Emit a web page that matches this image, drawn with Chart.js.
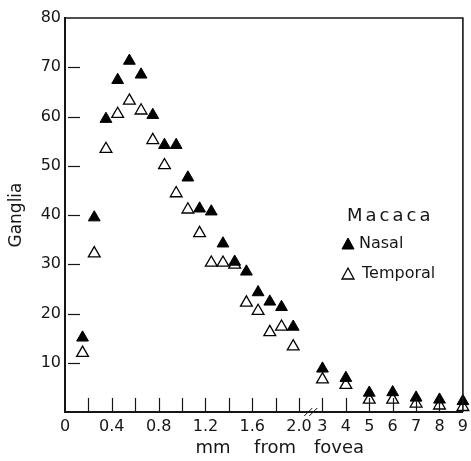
<!DOCTYPE html>
<html>
<head>
<meta charset="utf-8">
<script src="https://cdn.jsdelivr.net/npm/chart.js@4/dist/chart.umd.min.js"></script>
<style>
html, body { margin: 0; padding: 0; background: #fff; }
</style>
</head>
<body>
<canvas id="graphCanvas" width="471" height="461"></canvas>
<script>
// Distances (mm from fovea) - fine section 0..2 mm, then coarse 3..9 mm
const nearDist = [0.15, 0.25, 0.35, 0.45, 0.55, 0.65, 0.75, 0.85, 0.95, 1.05,
                  1.15, 1.25, 1.35, 1.45, 1.55, 1.65, 1.75, 1.85, 1.95];
const farDist = [3, 4, 5, 6, 7, 8, 9];

// Ganglia counts
const nasalNear = [15.1, 39.5, 59.5, 67.4, 71.3, 68.5, 60.3, 54.2, 54.2, 47.6,
                   41.3, 40.7, 34.2, 30.5, 28.5, 24.3, 22.4, 21.3, 17.3];
const temporalNear = [12.0, 32.2, 53.4, 60.5, 63.2, 61.2, 55.2, 50.1, 44.4, 41.1,
                      36.3, 30.3, 30.3, 29.9, 22.2, 20.5, 16.2, 17.3, 13.3];
const nasalFar = [8.8, 6.9, 3.9, 4.0, 2.9, 2.5, 2.2];
const temporalFar = [6.6, 5.5, 2.5, 2.5, 1.7, 1.3, 1.0];

// Axis ticks
const xTickValues = [0, 0.4, 0.8, 1.2, 1.6, 2.0, 3, 4, 5, 6, 7, 8, 9];
const xTickLabels = ['0', '0.4', '0.8', '1.2', '1.6', '2.0', '3', '4', '5', '6', '7', '8', '9'];
const xMinorTicks = [0.2, 0.6, 1.0, 1.4, 1.8];
const yTickValues = [10, 20, 30, 40, 50, 60, 70, 80];

const INK = '#161616';
const FONT = '"DejaVu Sans", sans-serif';

// broken axis: after 2.0 mm every whole mm takes the room of 0.2 mm
function pos(mm) {
    return mm <= 2 ? mm : 2 + (mm - 2) * 0.2;
}

function toPoints(dist, vals) {
    return dist.map((d, i) => ({ x: pos(d), y: vals[i] }));
}

// frame, inward ticks, break mark, titles and legend
const decorations = {
    id: 'decorations',
    afterDraw(chart) {
        const ctx = chart.ctx;
        const a = chart.chartArea;
        const xs = chart.scales.x;
        const ys = chart.scales.y;
        ctx.save();
        ctx.strokeStyle = INK;
        ctx.fillStyle = INK;

        // top + right frame
        ctx.lineWidth = 1.6;
        ctx.beginPath();
        ctx.moveTo(a.left, a.top);
        ctx.lineTo(a.right, a.top);
        ctx.lineTo(a.right, a.bottom);
        ctx.stroke();

        // x ticks pointing up
        ctx.lineWidth = 1.2;
        const xt = xTickValues.slice(1, -1).concat(xMinorTicks);
        xt.forEach(v => {
            const px = Math.round(xs.getPixelForValue(pos(v))) + 0.5;
            ctx.beginPath();
            ctx.moveTo(px, a.bottom);
            ctx.lineTo(px, a.bottom - 14);
            ctx.stroke();
        });
        // y ticks pointing right
        yTickValues.slice(0, -1).forEach(v => {
            const py = Math.round(ys.getPixelForValue(v)) + 0.5;
            ctx.beginPath();
            ctx.moveTo(a.left + 3, py);
            ctx.lineTo(a.left + 15, py);
            ctx.stroke();
        });

        // axis break "//"
        const bx = (xs.getPixelForValue(2) + xs.getPixelForValue(pos(3))) / 2;
        ctx.lineWidth = 1;
        [-2.5, 2.5].forEach(off => {
            ctx.beginPath();
            ctx.moveTo(bx + off - 4, a.bottom + 4);
            ctx.lineTo(bx + off + 4, a.bottom - 4);
            ctx.stroke();
        });

        // x title, wide word spacing as in the print
        ctx.font = '18px ' + FONT;
        ctx.textAlign = 'center';
        ctx.textBaseline = 'alphabetic';
        ctx.fillText('mm', 213, 453);
        ctx.fillText('from', 275, 453);
        ctx.fillText('fovea', 339, 453);

        // y title
        ctx.save();
        ctx.translate(17, 215);
        ctx.rotate(-Math.PI / 2);
        ctx.textBaseline = 'middle';
        ctx.font = '17px ' + FONT;
        ctx.fillText('Ganglia', 0, 0);
        ctx.restore();

        // legend
        ctx.textAlign = 'left';
        ctx.textBaseline = 'middle';
        ctx.font = '18px ' + FONT;
        ctx.letterSpacing = '3px';
        ctx.fillText('Macaca', 347, 216);
        ctx.letterSpacing = '0px';
        ctx.font = '16px ' + FONT;
        chart.data.datasets.forEach((ds, i) => {
            const ly = 244 + i * 30;
            ctx.fillStyle = ds.backgroundColor;
            ctx.strokeStyle = ds.borderColor;
            ctx.lineWidth = ds.borderWidth;
            ctx.beginPath();
            ctx.moveTo(348, ly - 6);
            ctx.lineTo(354, ly + 5);
            ctx.lineTo(342, ly + 5);
            ctx.closePath();
            ctx.fill();
            ctx.stroke();
            ctx.fillStyle = INK;
            ctx.fillText(ds.label, 359 + i * 3, ly);
        });
        ctx.restore();
    }
};

const ctx = document.getElementById('graphCanvas').getContext('2d');
window.myChart = new Chart(ctx, {
    type: 'scatter',
    data: {
        datasets: [{
            label: 'Nasal',
            data: toPoints(nearDist, nasalNear).concat(toPoints(farDist, nasalFar)),
            pointStyle: 'triangle',
            pointRadius: 6.8,
            backgroundColor: '#000',
            borderColor: '#000',
            borderWidth: 1,
            clip: false
        }, {
            label: 'Temporal',
            data: toPoints(nearDist, temporalNear).concat(toPoints(farDist, temporalFar)),
            pointStyle: 'triangle',
            pointRadius: 6.8,
            backgroundColor: '#fff',
            borderColor: '#000',
            borderWidth: 1.3,
            clip: false
        }]
    },
    options: {
        responsive: false,
        animation: false,
        devicePixelRatio: 1,
        layout: { padding: { top: 18, right: 7, left: 0, bottom: 0 } },
        plugins: {
            legend: { display: false },
            tooltip: { enabled: false }
        },
        scales: {
            x: {
                type: 'linear',
                min: 0,
                max: pos(9),
                afterBuildTicks: s => { s.ticks = xTickValues.map(v => ({ value: pos(v) })); },
                afterFit: s => { s.height = 49; s.paddingRight = 0; },
                grid: { display: false, drawTicks: false },
                border: { display: true, color: INK, width: 2 },
                ticks: {
                    autoSkip: false,
                    maxRotation: 0,
                    padding: 5,
                    color: INK,
                    font: { family: FONT, size: 16 },
                    callback: (v, i) => xTickLabels[i]
                }
            },
            y: {
                min: 0,
                max: 80,
                afterBuildTicks: s => { s.ticks = yTickValues.map(v => ({ value: v })); },
                afterFit: s => { s.width = 65; },
                grid: { display: false, drawTicks: false },
                border: { display: true, color: INK, width: 2 },
                ticks: {
                    padding: 4,
                    color: INK,
                    font: { family: FONT, size: 16 }
                }
            }
        }
    },
    plugins: [decorations]
});
</script>
</body>
</html>
